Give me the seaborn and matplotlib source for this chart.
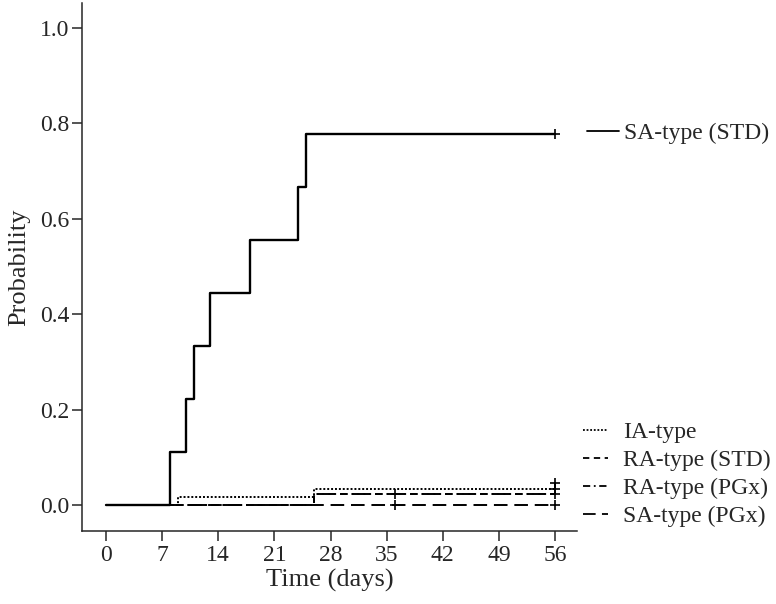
import numpy as np
import pandas as pd
import matplotlib
matplotlib.use("Agg")
import matplotlib.pyplot as plt
import seaborn as sns
from matplotlib.lines import Line2D

# ---- data ----
sa_std_t = [0, 8, 10, 11, 13, 18, 24, 25, 56]
sa_std_p = [0.0, 0.111, 0.222, 0.333, 0.444, 0.556, 0.667, 0.778, 0.778]
ia_t = [0, 9, 26, 56]
ia_p = [0.0, 0.017, 0.034, 0.034]
ra_std_t = [0, 26, 56]
ra_std_p = [0.0, 0.022, 0.046]
ra_pgx_t = [0, 26, 56]
ra_pgx_p = [0.0, 0.022, 0.022]
sa_pgx_t = [0, 56]
sa_pgx_p = [0.0, 0.0]

# censor marks (time, probability)
cens_t = [56, 56, 56, 36, 56, 36, 56]
cens_p = [0.778, 0.034, 0.046, 0.022, 0.022, 0.0, 0.0]

x_ticks = [0, 7, 14, 21, 28, 35, 42, 49, 56]
y_ticks = [0.0, 0.2, 0.4, 0.6, 0.8, 1.0]

sns.set_style("ticks")
plt.rcParams['font.family'] = ['Liberation Serif', 'DejaVu Serif']

fig = plt.figure(figsize=(7.76, 6.04), dpi=100)
ax = fig.add_axes([82/776, 1-531/604, (577-82)/776, (531-3)/604])

series = [
    ("SA-type (STD)", sa_std_t, sa_std_p, "-"),
    ("IA-type", ia_t, ia_p, (0, (1, 1))),
    ("RA-type (STD)", ra_std_t, ra_std_p, (0, (3.5, 2.5))),
    ("RA-type (PGx)", ra_pgx_t, ra_pgx_p, (0, (4, 2, 1, 2))),
    ("SA-type (PGx)", sa_pgx_t, sa_pgx_p, (0, (7, 3.5))),
]
for name, t, p, ls in series:
    lw = 1.7 if name == "SA-type (STD)" else 1.4
    sns.lineplot(x=t, y=p, drawstyle="steps-post", color="black", linestyle=ls,
                 linewidth=lw, ax=ax, legend=False, estimator=None, sort=False)

sns.scatterplot(x=cens_t, y=cens_p, marker="+", color="black", s=60, linewidth=1.2,
                ax=ax, legend=False, zorder=5)

ax.set_xlim(-3.0, 58.75)
ax.set_ylim(-0.0545, 1.052)
ax.set_xticks(x_ticks)
ax.set_xticklabels([str(v) for v in x_ticks])
ax.set_yticks(y_ticks)
ax.set_yticklabels([f"{v:.1f}" for v in y_ticks])
for s in ["top", "right"]:
    ax.spines[s].set_visible(False)
for s in ["left", "bottom"]:
    ax.spines[s].set_linewidth(1.1)
ax.tick_params(axis="both", direction="out", length=7, width=1.1, labelsize=17)
ax.tick_params(axis="y", pad=2)
ax.tick_params(axis="x", pad=3)
ax.set_xlabel("Time (days)", fontsize=19, labelpad=2)
ax.set_ylabel("Probability", fontsize=19, labelpad=7)

# legends
h1 = [Line2D([], [], color="black", linestyle="-", linewidth=1.3)]
leg1 = fig.legend(h1, ["SA-type (STD)"], loc="center left",
                  bbox_to_anchor=(587/776, 1-133/604), bbox_transform=fig.transFigure,
                  frameon=False, fontsize=17, handlelength=1.35, handletextpad=0.22,
                  borderpad=0, borderaxespad=0)
h2 = [Line2D([], [], color="black", linestyle=ls, linewidth=1.3) for _, _, _, ls in series[1:]]
leg2 = fig.legend(h2, [s[0] for s in series[1:]], loc="center left",
                  bbox_to_anchor=(583/776, 1-474.5/604), bbox_transform=fig.transFigure,
                  frameon=False, fontsize=17, handlelength=1.05, handletextpad=0.65,
                  borderpad=0, borderaxespad=0, labelspacing=0.27)

fig.savefig("out.png", dpi=100)
